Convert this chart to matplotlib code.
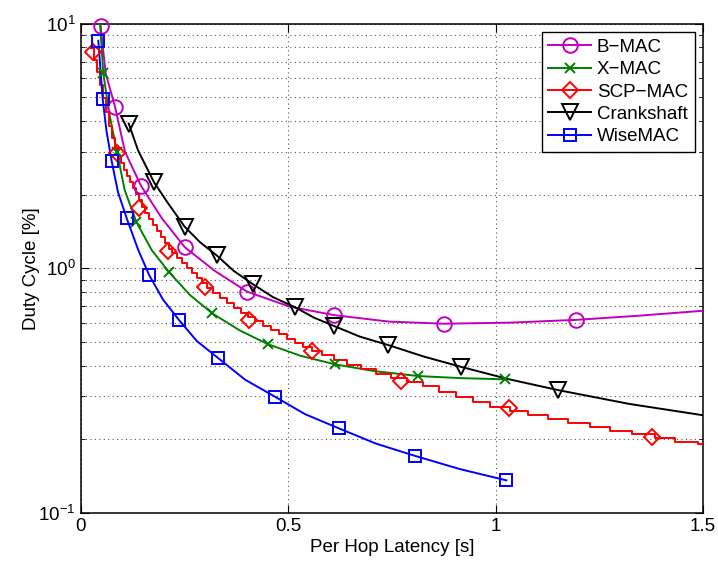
import matplotlib
matplotlib.use("Agg")
import matplotlib.pyplot as plt
from matplotlib.lines import Line2D
from matplotlib.ticker import LogLocator, FixedLocator, NullFormatter

plt.rcParams['font.family'] = ['Liberation Sans', 'DejaVu Sans']
plt.rcParams['mathtext.fontset'] = 'custom'
plt.rcParams['mathtext.rm'] = 'Liberation Sans'

# B-MAC
bmac_line_x = [0.0453, 0.048, 0.0602, 0.083, 0.1067, 0.145, 0.1952, 0.251, 0.3236, 0.402,
               0.5043, 0.611, 0.7429, 0.876, 1.0345, 1.195, 1.348, 1.5]
bmac_line_y = [10.55, 9.79, 6.27, 4.56, 3.00, 2.18, 1.606, 1.22, 0.975, 0.802,
               0.697, 0.644, 0.606, 0.594, 0.600, 0.616, 0.641, 0.671]
bmac_mark_x = [0.048, 0.083, 0.145, 0.251, 0.402, 0.611, 0.876, 1.195]
bmac_mark_y = [9.79, 4.56, 2.18, 1.22, 0.802, 0.644, 0.594, 0.616]

# X-MAC
xmac_line_x = [0.0453, 0.0545, 0.0682, 0.0875, 0.106, 0.134, 0.1711, 0.2128, 0.2634, 0.3171,
               0.3839, 0.4513, 0.5284, 0.6135, 0.7092, 0.8135, 0.914, 1.0231]
xmac_line_y = [10.85, 6.27, 4.36, 2.99, 2.09, 1.55, 1.188, 0.966, 0.778, 0.655,
               0.557, 0.490, 0.440, 0.405, 0.380, 0.363, 0.356, 0.352]
xmac_mark_x = [0.0545, 0.0875, 0.134, 0.2128, 0.3171, 0.4513, 0.6135, 0.8135, 1.0231]
xmac_mark_y = [6.27, 2.99, 1.55, 0.966, 0.655, 0.490, 0.405, 0.363, 0.352]

# SCP-MAC (stepped curve)
scp_line_x = [0.0248, 0.032, 0.0393, 0.0465, 0.0537, 0.061, 0.0682, 0.0754, 0.0827, 0.0899,
              0.0971, 0.1043, 0.1116, 0.1188, 0.126, 0.1333, 0.1405, 0.1477, 0.1549, 0.1646,
              0.1742, 0.1839, 0.1935, 0.2031, 0.2128, 0.22, 0.232, 0.2441, 0.2561, 0.2682,
              0.2802, 0.2923, 0.3043, 0.3188, 0.3357, 0.3525, 0.3694, 0.3863, 0.4031, 0.42,
              0.4393, 0.4586, 0.4778, 0.4971, 0.5164, 0.5357, 0.5573, 0.5814, 0.6104, 0.6417,
              0.6754, 0.7116, 0.7477, 0.7863, 0.8248, 0.8634, 0.9043, 0.9453, 0.9863, 1.0345,
              1.0778, 1.126, 1.1742, 1.2272, 1.2754, 1.3284, 1.3839, 1.432, 1.4875, 1.5]
scp_line_y = [7.95, 7.11, 6.35, 5.62, 4.97, 4.36, 3.82, 3.41, 3.10, 2.88,
              2.69, 2.52, 2.38, 2.25, 2.13, 2.01, 1.90, 1.78, 1.68, 1.59,
              1.50, 1.42, 1.34, 1.27, 1.20, 1.155, 1.10, 1.05, 1.003, 0.957,
              0.913, 0.871, 0.831, 0.796, 0.760, 0.725, 0.691, 0.660, 0.632, 0.609,
              0.584, 0.560, 0.539, 0.516, 0.495, 0.477, 0.459, 0.442, 0.424, 0.404,
              0.388, 0.371, 0.358, 0.343, 0.329, 0.3135, 0.299, 0.2853, 0.2717, 0.2617,
              0.2513, 0.2414, 0.2325, 0.2239, 0.2162, 0.2096, 0.2030, 0.1955, 0.1913, 0.1913]
scp_mark_x = [0.0304, 0.088, 0.141, 0.211, 0.300, 0.406, 0.558, 0.773, 1.032, 1.378]
scp_mark_y = [7.68, 2.95, 1.76, 1.18, 0.836, 0.615, 0.460, 0.347, 0.268, 0.205]

# Crankshaft
crank_line_x = [0.1157, 0.1381, 0.1766, 0.2111, 0.2506, 0.2875, 0.3277, 0.3694, 0.4145, 0.4634,
                0.5171, 0.5622, 0.6111, 0.673, 0.7412, 0.8272, 0.9164, 1.0296, 1.1508, 1.3236, 1.5]
crank_line_y = [3.91, 3.04, 2.25, 1.84, 1.48, 1.28, 1.13, 0.975, 0.863, 0.763,
                0.693, 0.629, 0.581, 0.526, 0.486, 0.436, 0.396, 0.353, 0.318, 0.279, 0.251]
crank_mark_x = [0.1157, 0.1766, 0.2506, 0.3277, 0.4145, 0.5171, 0.6111, 0.7412, 0.9164, 1.1508]
crank_mark_y = [3.91, 2.25, 1.48, 1.13, 0.863, 0.693, 0.581, 0.486, 0.396, 0.318]

# WiseMAC
wise_line_x = [0.0424, 0.053, 0.0622, 0.0747, 0.0899, 0.111, 0.1388, 0.165, 0.1983, 0.237,
               0.2802, 0.332, 0.3959, 0.468, 0.5405, 0.622, 0.7116, 0.807, 0.914, 1.026]
wise_line_y = [8.52, 4.92, 3.64, 2.74, 2.05, 1.60, 1.188, 0.939, 0.746, 0.615,
               0.504, 0.429, 0.351, 0.299, 0.2537, 0.222, 0.1922, 0.171, 0.1512, 0.136]
wise_mark_x = [0.0424, 0.053, 0.0747, 0.111, 0.165, 0.237, 0.332, 0.468, 0.622, 0.807, 1.026]
wise_mark_y = [8.52, 4.92, 2.74, 1.60, 0.939, 0.615, 0.429, 0.299, 0.222, 0.171, 0.136]

labels = ['B\u2212MAC', 'X\u2212MAC', 'SCP\u2212MAC', 'Crankshaft', 'WiseMAC']

fig = plt.figure(figsize=(7.18, 5.65), dpi=100)
ax = fig.add_axes([0.1124, 0.092, 0.8667, 0.866])

lw = 1.4
series = [
    (bmac_line_x, bmac_line_y, bmac_mark_x, bmac_mark_y, '#BF00BF', 'o', 10.5, 'default'),
    (xmac_line_x, xmac_line_y, xmac_mark_x, xmac_mark_y, '#008000', 'x', 7, 'default'),
    (scp_line_x, scp_line_y, scp_mark_x, scp_mark_y, '#FF0000', 'D', 8.5, 'steps-post'),
    (crank_line_x, crank_line_y, crank_mark_x, crank_mark_y, 'black', 'v', 11, 'default'),
    (wise_line_x, wise_line_y, wise_mark_x, wise_mark_y, '#0000FF', 's', 8.5, 'default'),
]

handles = []
for (lx, ly, mx, my, c, m, ms, ds), lab in zip(series, labels):
    ax.plot(lx, ly, '-', color=c, linewidth=lw, drawstyle=ds, zorder=3)
    ax.plot(mx, my, linestyle='none', marker=m, markersize=ms, markerfacecolor='none',
            markeredgecolor=c, markeredgewidth=1.4, zorder=4, clip_on=False)
    handles.append(Line2D([], [], color=c, linewidth=lw, marker=m, markersize=ms,
                          markerfacecolor='none', markeredgecolor=c, markeredgewidth=1.4))

ax.set_yscale('log')
ax.set_xlim(0, 1.5)
ax.set_ylim(0.1, 10)
ax.xaxis.set_major_locator(FixedLocator([0, 0.5, 1, 1.5]))
ax.set_xticklabels(['0', '0.5', '1', '1.5'])
ax.yaxis.set_major_locator(LogLocator(base=10, numticks=10))
ax.yaxis.set_minor_locator(LogLocator(base=10, subs=range(2, 10), numticks=10))
ax.yaxis.set_minor_formatter(NullFormatter())

ax.grid(True, which='major', color='#555555', linestyle=(0, (1, 3)), linewidth=0.8)
ax.grid(True, which='minor', axis='y', color='#555555', linestyle=(0, (1, 3)), linewidth=0.8)
ax.tick_params(which='both', direction='in', top=True, right=True, labelsize=13.5)
ax.tick_params(which='major', length=6)
ax.tick_params(which='minor', length=3)
for s in ax.spines.values():
    s.set_linewidth(1.1)

ax.set_xlabel('Per Hop Latency [s]', fontsize=13.5, labelpad=3)
ax.set_ylabel('Duty Cycle [%]', fontsize=13.5, labelpad=-1)

leg = ax.legend(handles, labels, loc='upper right', fontsize=13.5, frameon=True, fancybox=False,
                edgecolor='black', framealpha=1, borderpad=0.35, labelspacing=0.28,
                handlelength=2.3, handletextpad=0.3, borderaxespad=0.45)
leg.get_frame().set_linewidth(1.0)

fig.savefig('out.png', dpi=100)
